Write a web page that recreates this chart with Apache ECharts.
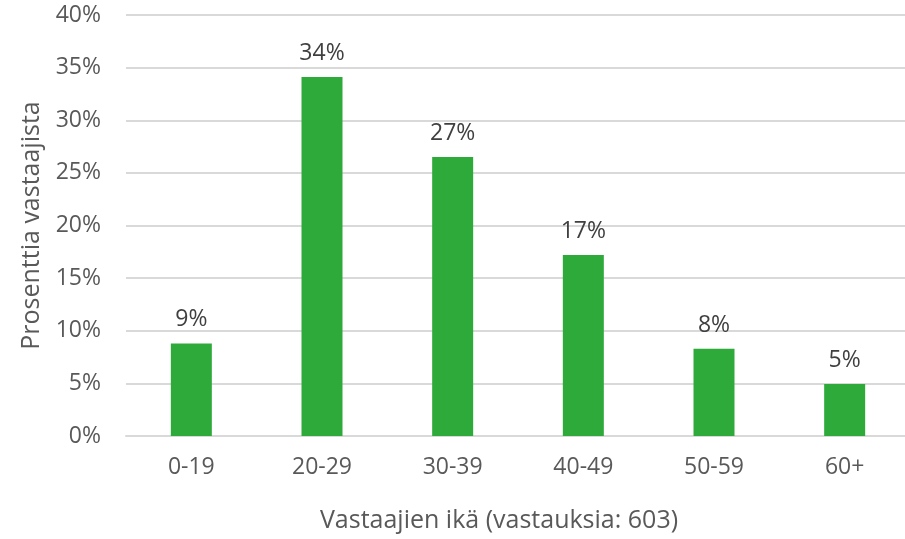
<!DOCTYPE html>
<html>
<head>
<meta charset="utf-8">
<script src="https://cdn.jsdelivr.net/npm/echarts@6/dist/echarts.min.js"></script>
<style>
  html, body { margin: 0; padding: 0; background: #fff; }
  #chart { width: 905px; height: 539px; }
</style>
</head>
<body>
<div id="chart"></div>
<script>
// age groups and share of respondents (%)
const ageGroups = ['0-19', '20-29', '30-39', '40-49', '50-59', '60+'];
const shares = [8.8, 34.1, 26.5, 17.2, 8.3, 4.95];
const yTicks = [0, 5, 10, 15, 20, 25, 30, 35, 40];

const font = '"Open Sans", "Noto Sans", sans-serif';

let chart = echarts.init(document.getElementById('chart'));

chart.setOption({
  animation: false,
  textStyle: { fontFamily: font },
  title: {
    text: 'Vastaajien ikä (vastauksia: 603)',
    left: 494,
    top: 503,
    textAlign: 'center',
    textStyle: {
      fontFamily: font,
      fontSize: 25,
      fontWeight: 'normal',
      color: '#595959',
    },
  },
  grid: {
    left: 126,
    width: 784,
    top: 15,
    height: 421,
    outerBoundsMode: 'none',
  },
  xAxis: {
    type: 'category',
    data: ageGroups,
    axisLine: { show: true, lineStyle: { color: '#d9d9d9', width: 2 } },
    axisTick: { show: false },
    axisLabel: {
      color: '#595959',
      fontFamily: font,
      fontSize: 23,
      margin: 20,
    },
  },
  yAxis: {
    type: 'value',
    min: yTicks[0],
    max: yTicks[yTicks.length - 1],
    interval: 5,
    name: 'Prosenttia vastaajista',
    nameLocation: 'middle',
    nameGap: 80,
    nameTextStyle: {
      fontFamily: font,
      fontSize: 25,
      color: '#595959',
    },
    axisLine: { show: false },
    axisTick: { show: false },
    splitLine: { lineStyle: { color: '#d9d9d9', width: 2 } },
    axisLabel: {
      color: '#595959',
      fontFamily: font,
      fontSize: 23,
      margin: 25,
      formatter: '{value}%',
    },
  },
  series: [
    {
      type: 'bar',
      data: shares,
      barWidth: 41,
      itemStyle: { color: '#2eaa3a' },
      label: {
        show: true,
        position: 'top',
        distance: 12,
        color: '#404040',
        fontFamily: font,
        fontSize: 23,
        formatter: (p) => Math.round(p.value) + '%',
      },
    },
  ],
});
</script>
</body>
</html>
